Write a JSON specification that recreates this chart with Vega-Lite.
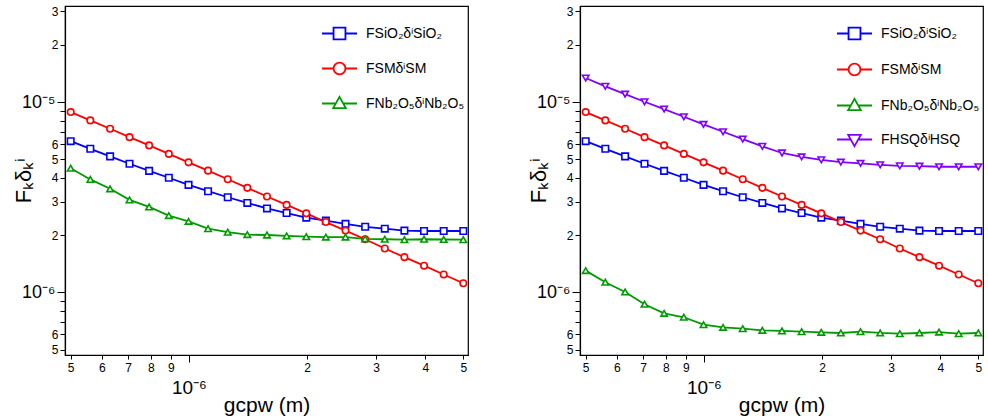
{
  "$schema": "https://vega.github.io/schema/vega-lite/v6.json",
  "background": "white",
  "padding": {"left": 11, "top": 4, "right": 3, "bottom": 3},
  "spacing": 55,
  "config": {
    "font": "Liberation Sans",
    "view": {"stroke": "black", "strokeWidth": 1.2},
    "axis": {"grid": false, "domainColor": "black", "tickColor": "black", "labelColor": "black", "titleColor": "black", "titleFontWeight": "normal", "labelFlush": false, "labelOverlap": false, "domainWidth": 1.2, "tickWidth": 1, "labelFont": "Liberation Sans", "titleFont": "Liberation Sans"}
  },
  "datasets": {
    "L": [
      {"s": "SiO2", "x": 5.0e-7, "y": 6.23e-6}, {"s": "SiO2", "x": 5.61e-7, "y": 5.68e-6}, {"s": "SiO2", "x": 6.30e-7, "y": 5.18e-6}, {"s": "SiO2", "x": 7.06e-7, "y": 4.74e-6}, {"s": "SiO2", "x": 7.92e-7, "y": 4.35e-6}, {"s": "SiO2", "x": 8.89e-7, "y": 4.00e-6}, {"s": "SiO2", "x": 9.98e-7, "y": 3.67e-6}, {"s": "SiO2", "x": 1.119e-6, "y": 3.40e-6}, {"s": "SiO2", "x": 1.256e-6, "y": 3.16e-6}, {"s": "SiO2", "x": 1.409e-6, "y": 2.95e-6}, {"s": "SiO2", "x": 1.581e-6, "y": 2.76e-6}, {"s": "SiO2", "x": 1.774e-6, "y": 2.61e-6}, {"s": "SiO2", "x": 1.991e-6, "y": 2.47e-6}, {"s": "SiO2", "x": 2.233e-6, "y": 2.38e-6}, {"s": "SiO2", "x": 2.506e-6, "y": 2.29e-6}, {"s": "SiO2", "x": 2.812e-6, "y": 2.21e-6}, {"s": "SiO2", "x": 3.155e-6, "y": 2.16e-6}, {"s": "SiO2", "x": 3.540e-6, "y": 2.11e-6}, {"s": "SiO2", "x": 3.972e-6, "y": 2.10e-6}, {"s": "SiO2", "x": 4.457e-6, "y": 2.10e-6}, {"s": "SiO2", "x": 5.0e-6, "y": 2.10e-6},
      {"s": "SM", "x": 5.0e-7, "y": 8.86e-6}, {"s": "SM", "x": 5.61e-7, "y": 8.01e-6}, {"s": "SM", "x": 6.30e-7, "y": 7.24e-6}, {"s": "SM", "x": 7.06e-7, "y": 6.54e-6}, {"s": "SM", "x": 7.92e-7, "y": 5.92e-6}, {"s": "SM", "x": 8.89e-7, "y": 5.34e-6}, {"s": "SM", "x": 9.98e-7, "y": 4.82e-6}, {"s": "SM", "x": 1.119e-6, "y": 4.36e-6}, {"s": "SM", "x": 1.256e-6, "y": 3.93e-6}, {"s": "SM", "x": 1.409e-6, "y": 3.54e-6}, {"s": "SM", "x": 1.581e-6, "y": 3.19e-6}, {"s": "SM", "x": 1.774e-6, "y": 2.88e-6}, {"s": "SM", "x": 1.991e-6, "y": 2.60e-6}, {"s": "SM", "x": 2.233e-6, "y": 2.34e-6}, {"s": "SM", "x": 2.506e-6, "y": 2.11e-6}, {"s": "SM", "x": 2.812e-6, "y": 1.90e-6}, {"s": "SM", "x": 3.155e-6, "y": 1.70e-6}, {"s": "SM", "x": 3.540e-6, "y": 1.53e-6}, {"s": "SM", "x": 3.972e-6, "y": 1.38e-6}, {"s": "SM", "x": 4.457e-6, "y": 1.24e-6}, {"s": "SM", "x": 5.0e-6, "y": 1.115e-6},
      {"s": "Nb2O5", "x": 5.0e-7, "y": 4.49e-6}, {"s": "Nb2O5", "x": 5.61e-7, "y": 3.92e-6}, {"s": "Nb2O5", "x": 6.30e-7, "y": 3.50e-6}, {"s": "Nb2O5", "x": 7.06e-7, "y": 3.06e-6}, {"s": "Nb2O5", "x": 7.92e-7, "y": 2.81e-6}, {"s": "Nb2O5", "x": 8.89e-7, "y": 2.53e-6}, {"s": "Nb2O5", "x": 9.98e-7, "y": 2.36e-6}, {"s": "Nb2O5", "x": 1.119e-6, "y": 2.16e-6}, {"s": "Nb2O5", "x": 1.256e-6, "y": 2.07e-6}, {"s": "Nb2O5", "x": 1.409e-6, "y": 2.01e-6}, {"s": "Nb2O5", "x": 1.581e-6, "y": 2.00e-6}, {"s": "Nb2O5", "x": 1.774e-6, "y": 1.98e-6}, {"s": "Nb2O5", "x": 1.991e-6, "y": 1.96e-6}, {"s": "Nb2O5", "x": 2.233e-6, "y": 1.95e-6}, {"s": "Nb2O5", "x": 2.506e-6, "y": 1.95e-6}, {"s": "Nb2O5", "x": 2.812e-6, "y": 1.91e-6}, {"s": "Nb2O5", "x": 3.155e-6, "y": 1.90e-6}, {"s": "Nb2O5", "x": 3.540e-6, "y": 1.89e-6}, {"s": "Nb2O5", "x": 3.972e-6, "y": 1.90e-6}, {"s": "Nb2O5", "x": 4.457e-6, "y": 1.895e-6}, {"s": "Nb2O5", "x": 5.0e-6, "y": 1.89e-6}
    ],
    "R": [
      {"s": "SiO2", "x": 5.0e-7, "y": 6.23e-6}, {"s": "SiO2", "x": 5.61e-7, "y": 5.68e-6}, {"s": "SiO2", "x": 6.30e-7, "y": 5.18e-6}, {"s": "SiO2", "x": 7.06e-7, "y": 4.74e-6}, {"s": "SiO2", "x": 7.92e-7, "y": 4.35e-6}, {"s": "SiO2", "x": 8.89e-7, "y": 4.00e-6}, {"s": "SiO2", "x": 9.98e-7, "y": 3.67e-6}, {"s": "SiO2", "x": 1.119e-6, "y": 3.40e-6}, {"s": "SiO2", "x": 1.256e-6, "y": 3.16e-6}, {"s": "SiO2", "x": 1.409e-6, "y": 2.95e-6}, {"s": "SiO2", "x": 1.581e-6, "y": 2.76e-6}, {"s": "SiO2", "x": 1.774e-6, "y": 2.61e-6}, {"s": "SiO2", "x": 1.991e-6, "y": 2.47e-6}, {"s": "SiO2", "x": 2.233e-6, "y": 2.38e-6}, {"s": "SiO2", "x": 2.506e-6, "y": 2.29e-6}, {"s": "SiO2", "x": 2.812e-6, "y": 2.21e-6}, {"s": "SiO2", "x": 3.155e-6, "y": 2.16e-6}, {"s": "SiO2", "x": 3.540e-6, "y": 2.11e-6}, {"s": "SiO2", "x": 3.972e-6, "y": 2.10e-6}, {"s": "SiO2", "x": 4.457e-6, "y": 2.10e-6}, {"s": "SiO2", "x": 5.0e-6, "y": 2.10e-6},
      {"s": "SM", "x": 5.0e-7, "y": 8.86e-6}, {"s": "SM", "x": 5.61e-7, "y": 8.01e-6}, {"s": "SM", "x": 6.30e-7, "y": 7.24e-6}, {"s": "SM", "x": 7.06e-7, "y": 6.54e-6}, {"s": "SM", "x": 7.92e-7, "y": 5.92e-6}, {"s": "SM", "x": 8.89e-7, "y": 5.34e-6}, {"s": "SM", "x": 9.98e-7, "y": 4.82e-6}, {"s": "SM", "x": 1.119e-6, "y": 4.36e-6}, {"s": "SM", "x": 1.256e-6, "y": 3.93e-6}, {"s": "SM", "x": 1.409e-6, "y": 3.54e-6}, {"s": "SM", "x": 1.581e-6, "y": 3.19e-6}, {"s": "SM", "x": 1.774e-6, "y": 2.88e-6}, {"s": "SM", "x": 1.991e-6, "y": 2.60e-6}, {"s": "SM", "x": 2.233e-6, "y": 2.34e-6}, {"s": "SM", "x": 2.506e-6, "y": 2.11e-6}, {"s": "SM", "x": 2.812e-6, "y": 1.90e-6}, {"s": "SM", "x": 3.155e-6, "y": 1.70e-6}, {"s": "SM", "x": 3.540e-6, "y": 1.53e-6}, {"s": "SM", "x": 3.972e-6, "y": 1.38e-6}, {"s": "SM", "x": 4.457e-6, "y": 1.24e-6}, {"s": "SM", "x": 5.0e-6, "y": 1.115e-6},
      {"s": "Nb2O5", "x": 5.0e-7, "y": 1.30e-6}, {"s": "Nb2O5", "x": 5.61e-7, "y": 1.13e-6}, {"s": "Nb2O5", "x": 6.30e-7, "y": 1.004e-6}, {"s": "Nb2O5", "x": 7.06e-7, "y": 8.65e-7}, {"s": "Nb2O5", "x": 7.92e-7, "y": 7.75e-7}, {"s": "Nb2O5", "x": 8.89e-7, "y": 7.39e-7}, {"s": "Nb2O5", "x": 9.98e-7, "y": 6.76e-7}, {"s": "Nb2O5", "x": 1.119e-6, "y": 6.54e-7}, {"s": "Nb2O5", "x": 1.256e-6, "y": 6.44e-7}, {"s": "Nb2O5", "x": 1.409e-6, "y": 6.31e-7}, {"s": "Nb2O5", "x": 1.581e-6, "y": 6.26e-7}, {"s": "Nb2O5", "x": 1.774e-6, "y": 6.21e-7}, {"s": "Nb2O5", "x": 1.991e-6, "y": 6.16e-7}, {"s": "Nb2O5", "x": 2.233e-6, "y": 6.11e-7}, {"s": "Nb2O5", "x": 2.506e-6, "y": 6.21e-7}, {"s": "Nb2O5", "x": 2.812e-6, "y": 6.11e-7}, {"s": "Nb2O5", "x": 3.155e-6, "y": 6.06e-7}, {"s": "Nb2O5", "x": 3.540e-6, "y": 6.11e-7}, {"s": "Nb2O5", "x": 3.972e-6, "y": 6.18e-7}, {"s": "Nb2O5", "x": 4.457e-6, "y": 6.06e-7}, {"s": "Nb2O5", "x": 5.0e-6, "y": 6.11e-7},
      {"s": "HSQ", "x": 5.0e-7, "y": 1.338e-5}, {"s": "HSQ", "x": 5.61e-7, "y": 1.21e-5}, {"s": "HSQ", "x": 6.30e-7, "y": 1.10e-5}, {"s": "HSQ", "x": 7.06e-7, "y": 1.004e-5}, {"s": "HSQ", "x": 7.92e-7, "y": 9.19e-6}, {"s": "HSQ", "x": 8.89e-7, "y": 8.37e-6}, {"s": "HSQ", "x": 9.98e-7, "y": 7.63e-6}, {"s": "HSQ", "x": 1.119e-6, "y": 6.98e-6}, {"s": "HSQ", "x": 1.256e-6, "y": 6.39e-6}, {"s": "HSQ", "x": 1.409e-6, "y": 5.85e-6}, {"s": "HSQ", "x": 1.581e-6, "y": 5.40e-6}, {"s": "HSQ", "x": 1.774e-6, "y": 5.15e-6}, {"s": "HSQ", "x": 1.991e-6, "y": 4.97e-6}, {"s": "HSQ", "x": 2.233e-6, "y": 4.83e-6}, {"s": "HSQ", "x": 2.506e-6, "y": 4.76e-6}, {"s": "HSQ", "x": 2.812e-6, "y": 4.68e-6}, {"s": "HSQ", "x": 3.155e-6, "y": 4.62e-6}, {"s": "HSQ", "x": 3.540e-6, "y": 4.60e-6}, {"s": "HSQ", "x": 3.972e-6, "y": 4.57e-6}, {"s": "HSQ", "x": 4.457e-6, "y": 4.57e-6}, {"s": "HSQ", "x": 5.0e-6, "y": 4.57e-6}
    ]
  },
  "hconcat": [
    {
      "width": 403,
      "height": 349,
      "data": {"name": "L"},
      "resolve": {"scale": {"color": "independent", "shape": "independent"}},
      "encoding": {
        "x": {"field": "x", "type": "quantitative", "scale": {"type": "log", "domain": [4.836e-7, 5.14e-6], "nice": false},
          "axis": {"values": [5e-7, 6e-7, 7e-7, 8e-7, 9e-7, 1e-6, 2e-6, 3e-6, 4e-6, 5e-6],
            "labelExpr": "datum.value == 1e-6 ? '10⁻⁶' : substring(format(datum.value, '.0e'), 0, 1)",
            "labelFontSize": {"condition": {"test": "datum.value == 1e-6", "value": 19}, "value": 12},
            "labelPadding": {"condition": {"test": "datum.value == 1e-6", "value": 16}, "value": 3},
            "tickSize": {"condition": {"test": "datum.value == 1e-6", "value": 7}, "value": 4},
            "title": "gcpw (m)", "titleFontSize": 21, "titleBaseline": "alphabetic", "titleY": 56}},
        "y": {"field": "y", "type": "quantitative", "scale": {"type": "log", "domain": [4.68e-7, 3.2e-5], "nice": false},
          "axis": {"values": [5e-7, 6e-7, 7e-7, 8e-7, 9e-7, 1e-6, 2e-6, 3e-6, 4e-6, 5e-6, 6e-6, 7e-6, 8e-6, 9e-6, 1e-5, 2e-5, 3e-5],
            "labelExpr": "datum.value == 1e-6 ? '10⁻⁶' : datum.value == 1e-5 ? '10⁻⁵' : indexof(['7','8','9'], substring(format(datum.value, '.0e'), 0, 1)) >= 0 ? '' : substring(format(datum.value, '.0e'), 0, 1)",
            "labelFontSize": {"condition": {"test": "datum.value == 1e-6 || datum.value == 1e-5", "value": 18}, "value": 12},
            "tickSize": {"condition": {"test": "datum.value == 1e-6 || datum.value == 1e-5", "value": 8}, "value": 5},
            "labelPadding": 2,
            "title": "Fₖδₖⁱ", "titleFontSize": 22, "titleX": -30, "titleY": 174, "titleBaseline": "bottom", "titleAngle": -90}}
      },
      "layer": [
        {"mark": {"type": "line", "strokeWidth": 1.8},
          "encoding": {"color": {"field": "s", "type": "nominal", "scale": {"domain": ["SiO2", "SM", "Nb2O5"], "range": ["#0000ff", "#ff0000", "#009a00"]}, "legend": null}}},
        {"mark": {"type": "point", "filled": false, "fill": "white", "opacity": 1, "size": 42, "strokeWidth": 1.6},
          "encoding": {
            "color": {"field": "s", "type": "nominal", "scale": {"domain": ["SiO2", "SM", "Nb2O5"], "range": ["#0000ff", "#ff0000", "#009a00"]}, "legend": null},
            "shape": {"field": "s", "type": "nominal", "scale": {"domain": ["SiO2", "SM", "Nb2O5"], "range": ["square", "circle", "triangle-up"]}, "legend": null}}},
        {"mark": {"type": "point", "filled": false, "opacity": 0},
          "encoding": {
            "color": {"field": "s", "type": "nominal", "scale": {"domain": ["SiO2", "SM", "Nb2O5"], "range": ["#0000ff", "#ff0000", "#009a00"]},
              "legend": {"orient": "none", "legendX": 256, "legendY": 9, "title": null, "symbolSize": 1225, "symbolStrokeWidth": 1.8, "symbolOpacity": 1, "labelFontSize": 14, "labelColor": "black", "labelOffset": 8, "rowPadding": 6, "labelLimit": 0,
                "labelExpr": "datum.label == 'SiO2' ? 'FSiO₂δⁱSiO₂' : datum.label == 'SM' ? 'FSMδⁱSM' : datum.label == 'Nb2O5' ? 'FNb₂O₅δⁱNb₂O₅' : 'FHSQδⁱHSQ'"}},
            "shape": {"field": "s", "type": "nominal", "scale": {"domain": ["SiO2", "SM", "Nb2O5"], "range": ["M-1,0H-0.34M0.34,0H1M-0.34,-0.34H0.34V0.34H-0.34Z", "M-1,0H-0.34M0.34,0H1M0.34,0A0.34,0.34,0,1,1,-0.34,0A0.34,0.34,0,1,1,0.34,0Z", "M-1,0H-0.2M0.2,0H1M0,-0.38L0.36,0.26H-0.36Z"]},
              "legend": {"orient": "none", "legendX": 256, "legendY": 9, "title": null, "symbolSize": 1225, "symbolStrokeWidth": 1.8, "symbolOpacity": 1, "labelFontSize": 14, "labelColor": "black", "labelOffset": 8, "rowPadding": 6, "labelLimit": 0,
                "labelExpr": "datum.label == 'SiO2' ? 'FSiO₂δⁱSiO₂' : datum.label == 'SM' ? 'FSMδⁱSM' : datum.label == 'Nb2O5' ? 'FNb₂O₅δⁱNb₂O₅' : 'FHSQδⁱHSQ'"}}}},
        {"data": {"values": [{"label": "No HSQ"}]},
          "mark": {"type": "text", "align": "left", "baseline": "alphabetic", "fontSize": 18, "color": "black"},
          "encoding": {"x": {"datum": 5.13e-7, "type": "quantitative"}, "y": {"datum": 5.45e-7, "type": "quantitative"}, "text": {"field": "label"}}}
      ]
    },
    {
      "width": 403,
      "height": 349,
      "data": {"name": "R"},
      "resolve": {"scale": {"color": "independent", "shape": "independent"}},
      "encoding": {
        "x": {"field": "x", "type": "quantitative", "scale": {"type": "log", "domain": [4.836e-7, 5.14e-6], "nice": false},
          "axis": {"values": [5e-7, 6e-7, 7e-7, 8e-7, 9e-7, 1e-6, 2e-6, 3e-6, 4e-6, 5e-6],
            "labelExpr": "datum.value == 1e-6 ? '10⁻⁶' : substring(format(datum.value, '.0e'), 0, 1)",
            "labelFontSize": {"condition": {"test": "datum.value == 1e-6", "value": 19}, "value": 12},
            "labelPadding": {"condition": {"test": "datum.value == 1e-6", "value": 16}, "value": 3},
            "tickSize": {"condition": {"test": "datum.value == 1e-6", "value": 7}, "value": 4},
            "title": "gcpw (m)", "titleFontSize": 21, "titleBaseline": "alphabetic", "titleY": 56}},
        "y": {"field": "y", "type": "quantitative", "scale": {"type": "log", "domain": [4.68e-7, 3.2e-5], "nice": false},
          "axis": {"values": [5e-7, 6e-7, 7e-7, 8e-7, 9e-7, 1e-6, 2e-6, 3e-6, 4e-6, 5e-6, 6e-6, 7e-6, 8e-6, 9e-6, 1e-5, 2e-5, 3e-5],
            "labelExpr": "datum.value == 1e-6 ? '10⁻⁶' : datum.value == 1e-5 ? '10⁻⁵' : indexof(['7','8','9'], substring(format(datum.value, '.0e'), 0, 1)) >= 0 ? '' : substring(format(datum.value, '.0e'), 0, 1)",
            "labelFontSize": {"condition": {"test": "datum.value == 1e-6 || datum.value == 1e-5", "value": 18}, "value": 12},
            "tickSize": {"condition": {"test": "datum.value == 1e-6 || datum.value == 1e-5", "value": 8}, "value": 5},
            "labelPadding": 2,
            "title": "Fₖδₖⁱ", "titleFontSize": 22, "titleX": -30, "titleY": 174, "titleBaseline": "bottom", "titleAngle": -90}}
      },
      "layer": [
        {"mark": {"type": "line", "strokeWidth": 1.8},
          "encoding": {"color": {"field": "s", "type": "nominal", "scale": {"domain": ["SiO2", "SM", "Nb2O5", "HSQ"], "range": ["#0000ff", "#ff0000", "#009a00", "#8000ff"]}, "legend": null}}},
        {"mark": {"type": "point", "filled": false, "fill": "white", "opacity": 1, "size": 42, "strokeWidth": 1.6},
          "encoding": {
            "color": {"field": "s", "type": "nominal", "scale": {"domain": ["SiO2", "SM", "Nb2O5", "HSQ"], "range": ["#0000ff", "#ff0000", "#009a00", "#8000ff"]}, "legend": null},
            "shape": {"field": "s", "type": "nominal", "scale": {"domain": ["SiO2", "SM", "Nb2O5", "HSQ"], "range": ["square", "circle", "triangle-up", "triangle-down"]}, "legend": null}}},
        {"mark": {"type": "point", "filled": false, "opacity": 0},
          "encoding": {
            "color": {"field": "s", "type": "nominal", "scale": {"domain": ["SiO2", "SM", "Nb2O5", "HSQ"], "range": ["#0000ff", "#ff0000", "#009a00", "#8000ff"]},
              "legend": {"orient": "none", "legendX": 256, "legendY": 9, "title": null, "symbolSize": 1225, "symbolStrokeWidth": 1.8, "symbolOpacity": 1, "labelFontSize": 14, "labelColor": "black", "labelOffset": 8, "rowPadding": 7, "labelLimit": 0,
                "labelExpr": "datum.label == 'SiO2' ? 'FSiO₂δⁱSiO₂' : datum.label == 'SM' ? 'FSMδⁱSM' : datum.label == 'Nb2O5' ? 'FNb₂O₅δⁱNb₂O₅' : 'FHSQδⁱHSQ'"}},
            "shape": {"field": "s", "type": "nominal", "scale": {"domain": ["SiO2", "SM", "Nb2O5", "HSQ"], "range": ["M-1,0H-0.34M0.34,0H1M-0.34,-0.34H0.34V0.34H-0.34Z", "M-1,0H-0.34M0.34,0H1M0.34,0A0.34,0.34,0,1,1,-0.34,0A0.34,0.34,0,1,1,0.34,0Z", "M-1,0H-0.2M0.2,0H1M0,-0.38L0.36,0.26H-0.36Z", "M-1,0H-0.2M0.2,0H1M0,0.38L0.36,-0.26H-0.36Z"]},
              "legend": {"orient": "none", "legendX": 256, "legendY": 9, "title": null, "symbolSize": 1225, "symbolStrokeWidth": 1.8, "symbolOpacity": 1, "labelFontSize": 14, "labelColor": "black", "labelOffset": 8, "rowPadding": 7, "labelLimit": 0,
                "labelExpr": "datum.label == 'SiO2' ? 'FSiO₂δⁱSiO₂' : datum.label == 'SM' ? 'FSMδⁱSM' : datum.label == 'Nb2O5' ? 'FNb₂O₅δⁱNb₂O₅' : 'FHSQδⁱHSQ'"}}}},
        {"data": {"values": [{"label": "HSQ"}]},
          "mark": {"type": "text", "align": "left", "baseline": "alphabetic", "fontSize": 18, "color": "black"},
          "encoding": {"x": {"datum": 5.13e-7, "type": "quantitative"}, "y": {"datum": 5.45e-7, "type": "quantitative"}, "text": {"field": "label"}}}
      ]
    }
  ]
}
